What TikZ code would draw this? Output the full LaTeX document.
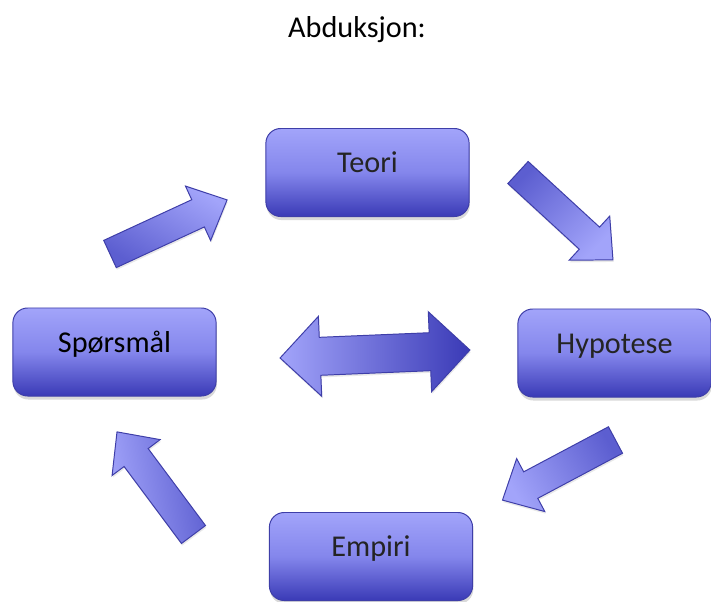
\documentclass[tikz,border=0pt]{standalone}
\usepackage{fontspec}
\setmainfont{Carlito}
\usepackage{tikz}
\usetikzlibrary{shapes,arrows.meta,positioning,shadows,calc}
\definecolor{abdlight}{RGB}{162,164,250}
\definecolor{abdmid}{RGB}{92,94,208}
\definecolor{abdboxmid}{RGB}{132,134,236}
\definecolor{abddark}{RGB}{58,58,182}
\definecolor{abdline}{RGB}{62,62,168}
\definecolor{abdtext}{RGB}{36,36,36}
\tikzstyle{blockarrow} = [draw=abdline, line width=0.7pt, line join=miter, top color=abdlight, bottom color=abdmid, drop shadow={shadow xshift=0.5pt, shadow yshift=-1.5pt, opacity=0.18}]

% block arrow: tail centre, direction, length, shading angle
\newcommand{\blockarrow}[4]{%
  \begin{scope}[shift={#1}, rotate=#2]
    \path[blockarrow, shading angle=#4]
      (0,15) -- (#3-32,15) -- (#3-32,30) -- (#3,0) -- (#3-32,-30) -- (#3-32,-15) -- (0,-15) -- cycle;
  \end{scope}}

\begin{document}
\begin{tikzpicture}[x=0.025cm, y=-0.025cm,
  stagebox/.style={rectangle, draw=abdline, line width=0.7pt, rounded corners=0.37cm, top color=abdlight, bottom color=abddark, middle color=abdboxmid, minimum width=5.08cm, minimum height=2.2cm, text height=0.6em, text depth=0.6em, text=abdtext, font=\fontsize{21.5}{26}\selectfont, drop shadow={shadow xshift=0.5pt, shadow yshift=-2.5pt, opacity=0.3}},
  titlelabel/.style={font=\fontsize{21.5}{26}\selectfont, text=black}]
\useasboundingbox (0,0) rectangle (711,601);

\node[titlelabel, anchor=base] (title) at (357,37) {Abduksjon:};

\node[stagebox] (teori) at (367.5,172.5) {Teori};
\node[stagebox, minimum width=4.83cm] (hypotese) at (614.5,353) {Hypotese};
\node[stagebox, text=black] (sporsmal) at (114.5,352) {Spørsmål};
\node[stagebox] (empiri) at (371,556.5) {Empiri};

% arrows round the cycle
\blockarrow{(110,254)}{24.8}{129}{-30}
\blockarrow{(518,172.5)}{-42.6}{129}{-135}
\blockarrow{(615.5,440)}{208}{128}{120}
\blockarrow{(193.5,534.5)}{126.7}{128}{100}

% double arrow in the middle
\begin{scope}[shift={(375,354)}, rotate=2.4]
  \path[blockarrow, bottom color=abddark, shading angle=90]
    (-95,0) -- (-55,40) -- (-55,19) -- (55,19) -- (55,40) -- (95,0) -- (55,-40) -- (55,-19) -- (-55,-19) -- (-55,-40) -- cycle;
\end{scope}
\end{tikzpicture}
\end{document}
